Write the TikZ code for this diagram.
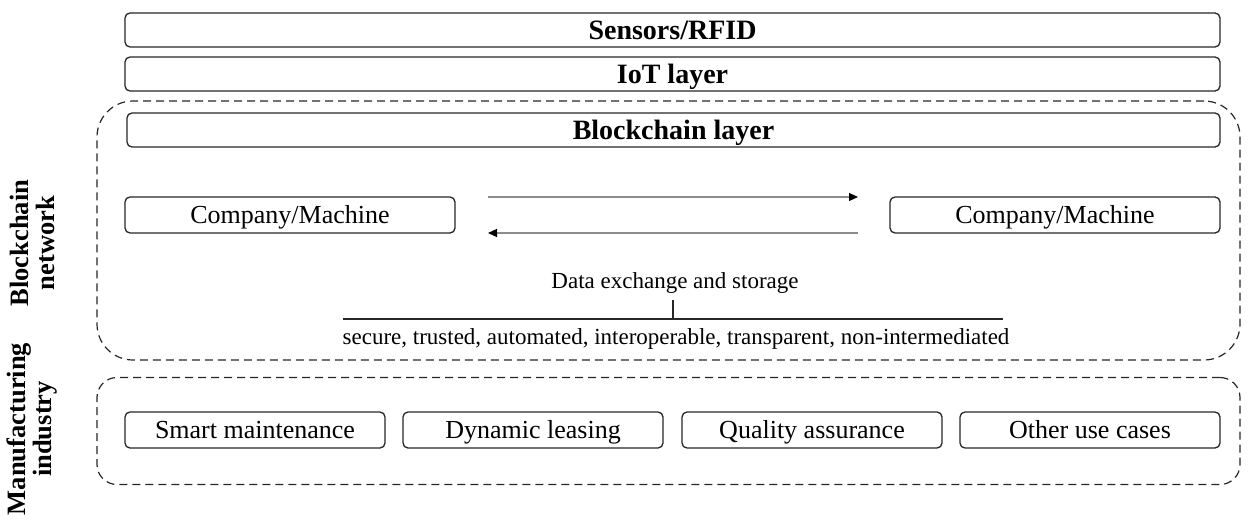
\documentclass[tikz,border=0pt]{standalone}
\usepackage{fontspec}
\setmainfont{Liberation Serif}
\usetikzlibrary{arrows.meta,calc}

\tikzset{
  layerbox/.style={draw=black!85, line width=1.3pt, rounded corners=5pt,
    inner sep=0pt, outer sep=0pt, minimum height=34pt,
    text height=18.5pt, text depth=0pt,
    font=\fontsize{28}{30}\selectfont\bfseries},
  unitbox/.style={draw=black!85, line width=1.3pt, rounded corners=5pt,
    inner sep=0pt, outer sep=0pt, minimum height=36pt,
    text height=17pt, text depth=0pt,
    font=\fontsize{26}{28}\selectfont},
  region/.style={draw=black!85, line width=1.2pt, dash pattern=on 8pt off 5pt,
    inner sep=0pt, outer sep=0pt},
  sidelabel/.style={rotate=90, align=center, inner sep=0pt,
    font=\fontsize{26.5}{26}\selectfont\bfseries},
  plaintext/.style={inner sep=0pt, text height=15pt, text depth=0pt,
    font=\fontsize{23}{26}\selectfont},
  flow/.style={draw=black!45, line width=1.1pt,
    -{Triangle[length=9pt,width=8pt,color=black]}},
  rule/.style={draw=black!85, line width=1.1pt},
}

\begin{document}
\begin{tikzpicture}[x=1pt,y=-1pt]
  \useasboundingbox (0,0) rectangle (1250,522);

  % dashed groupings
  \node[region, rounded corners=36pt, minimum width=1143pt, minimum height=259pt]
    (bcnet) at (668.5,230.5) {};
  \node[region, rounded corners=20pt, minimum width=1143pt, minimum height=107pt]
    (mfg) at (668.5,431) {};

  % stacked layers
  \node[layerbox, minimum width=1095pt] (sensors) at (672.5,30) {Sensors/RFID};
  \node[layerbox, minimum width=1095pt] (iot) at (672.5,74) {IoT layer};
  \node[layerbox, minimum width=1093pt] (chain) at (673.5,130) {Blockchain layer};

  % participants exchanging data
  \node[unitbox, minimum width=330pt] (cmL) at (290,215) {Company/Machine};
  \node[unitbox, minimum width=330pt] (cmR) at (1055,215) {Company/Machine};
  \draw[flow] ($(cmL.north east)+(33,0)$) -- ($(cmR.north west)+(-32,0)$);
  \draw[flow] ($(cmR.south west)+(-32,0)$) -- ($(cmL.south east)+(33,0)$);

  % properties of the exchange
  \node[plaintext] (data) at (675,281) {Data exchange and storage};
  \coordinate (tick) at (673,300);
  \coordinate (lineL) at (343,319);
  \coordinate (lineR) at (1003,319);
  \draw[rule] (lineL) -- (lineR);
  \draw[rule] (tick) -- (tick |- lineL);
  \node[plaintext] (props) at (676,337)
    {secure, trusted, automated, interoperable, transparent, non-intermediated};

  % use cases
  \node[unitbox, minimum width=260pt] (uc1) at (255,430) {Smart maintenance};
  \node[unitbox, minimum width=260pt] (uc2) at (533,430) {Dynamic leasing};
  \node[unitbox, minimum width=260pt] (uc3) at (812,430) {Quality assurance};
  \node[unitbox, minimum width=260pt] (uc4) at (1090,430) {Other use cases};

  % side labels
  \node[sidelabel] (lblnet) at (32,243) {Blockchain\\network};
  \node[sidelabel] (lblmfg) at (32,429) {Manufacturing\\industry};
\end{tikzpicture}
\end{document}
